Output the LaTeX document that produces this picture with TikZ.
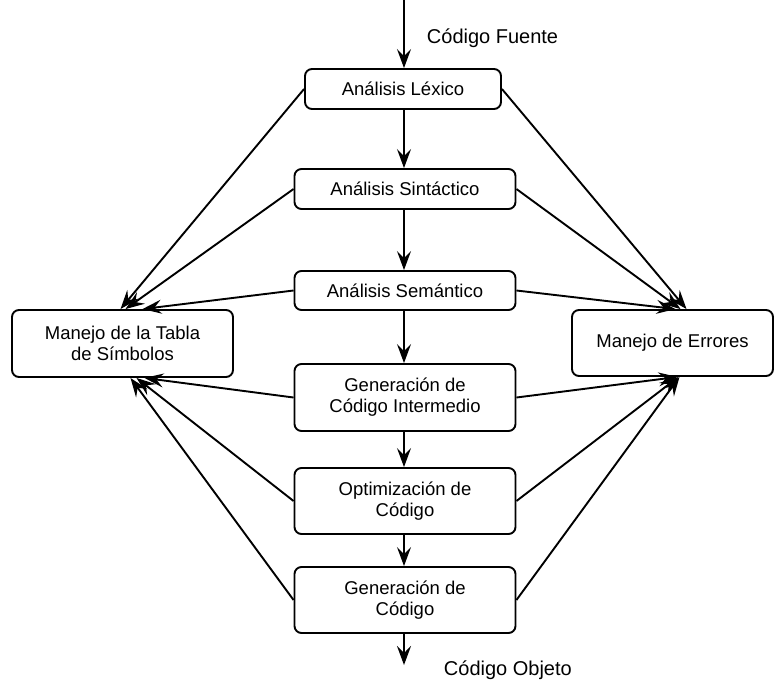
\documentclass[tikz,border=0pt]{standalone}
\usepackage{fontspec}
\setmainfont{Liberation Sans}
\usetikzlibrary{arrows.meta}

\begin{document}
\begin{tikzpicture}[x=1pt,y=-1pt,line width=1.9pt,
    >={Stealth[length=19pt,width=14pt,inset=7pt]}]
  \tikzstyle{fase}=[draw,rounded corners=7pt,align=center,inner sep=0pt,
    minimum width=221pt,minimum height=40pt,font=\fontsize{18.5}{21}\selectfont]
  \tikzstyle{etiqueta}=[anchor=west,inner sep=0pt,font=\fontsize{20}{24}\selectfont]

  \useasboundingbox (0,0) rectangle (784,681);

  \node[fase,minimum width=196pt]  (lex) at (403,89)    {Análisis Léxico};
  \node[fase]                      (sin) at (405,189)   {Análisis Sintáctico};
  \node[fase,minimum height=39pt]  (sem) at (405,290.5) {Análisis Semántico};
  \node[fase,minimum height=67pt]  (gci) at (405,397.5) {Generación de\\Código Intermedio};
  \node[fase,minimum height=66pt]  (opt) at (405,501)   {Optimización de\\Código};
  \node[fase,minimum height=66pt]  (gco) at (405,600)   {Generación de\\Código};
  \node[fase,minimum height=67pt]  (tds) at (122.5,343.5) {Manejo de la Tabla\\de Símbolos};
  \node[fase,minimum width=201pt,minimum height=66pt] (err) at (672.5,343) {Manejo de Errores};

  \coordinate (in)  at (404,0);
  \coordinate (out) at (404,665);
  \node[etiqueta] (cf) at (426,38)  {Código Fuente};
  \node[etiqueta] (co) at (443,670) {Código Objeto};

  \path[->]
  (in)        edge (in |- lex.north)
  (lex.south -| in) edge (in |- sin.north)
  (sin.south -| in) edge (in |- sem.north)
  (sem.south -| in) edge (in |- gci.north)
  (gci.south -| in) edge (in |- opt.north)
  (opt.south -| in) edge (in |- gco.north)
  (gco.south -| in) edge (out)
  % hacia la tabla de simbolos
  (lex.west) edge ([xshift=-2pt]tds.north)
  (sin.west) edge ([xshift=3pt]tds.north)
  (sem.west) edge ([xshift=20pt]tds.north)
  (gci.west) edge ([xshift=22pt]tds.south)
  (opt.west) edge ([xshift=14pt]tds.south)
  (gco.west) edge ([xshift=8pt]tds.south)
  % hacia el manejo de errores
  (lex.east) edge ([xshift=14pt]err.north)
  (sin.east) edge ([xshift=8pt]err.north)
  (sem.east) edge ([xshift=3pt]err.north)
  (gci.east) edge ([xshift=5pt]err.south)
  (opt.east) edge ([xshift=6pt]err.south)
  (gco.east) edge ([xshift=7pt]err.south)
  ;
\end{tikzpicture}
\end{document}
